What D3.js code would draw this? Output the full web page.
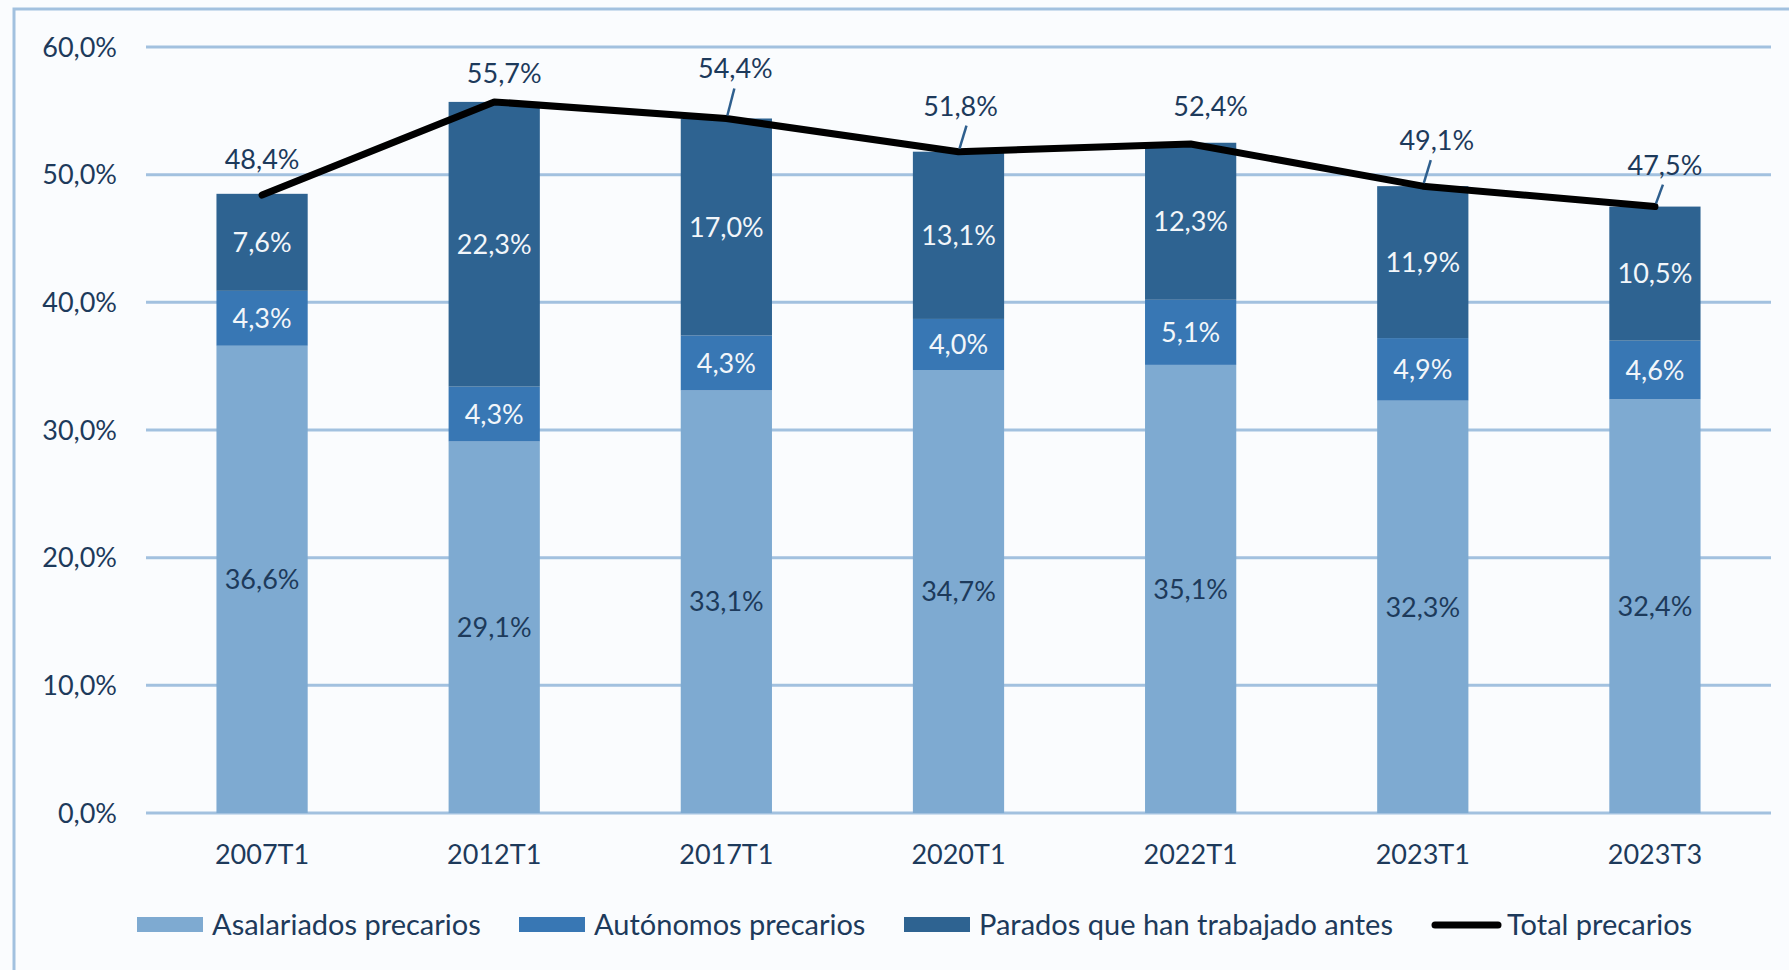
<!DOCTYPE html>
<html>
<head>
<meta charset="utf-8">
<script src="https://cdn.jsdelivr.net/npm/d3@7"></script>
<style>
    body { margin: 0; background: #ffffff; }
    svg { display: block; font-family: Lato, "Open Sans", sans-serif; }
</style>
</head>
<body>
<div class="main_content"></div>
<script>
// Data
const categories = ['2007T1', '2012T1', '2017T1', '2020T1', '2022T1', '2023T1', '2023T3'];
const asalariados = [36.6, 29.1, 33.1, 34.7, 35.1, 32.3, 32.4];
const autonomos = [4.3, 4.3, 4.3, 4.0, 5.1, 4.9, 4.6];
const parados = [7.6, 22.3, 17.0, 13.1, 12.3, 11.9, 10.5];
const totales = [48.4, 55.7, 54.4, 51.8, 52.4, 49.1, 47.5];
const yTicks = [0, 10, 20, 30, 40, 50, 60];
const seriesNames = ['Asalariados precarios', 'Autónomos precarios', 'Parados que han trabajado antes', 'Total precarios'];

// label placement for the total line (pixel offsets, leader line or not)
const totalLabelPos = [
    {dx: 0, dy: -26, leader: false},
    {dx: 10, dy: -19, leader: false},
    {dx: 9, dy: -40, leader: true},
    {dx: 2, dy: -36, leader: true},
    {dx: 20, dy: -28, leader: false},
    {dx: 14, dy: -36, leader: true},
    {dx: 10, dy: -32, leader: true}
];

const colors = ['#7eaad1', '#3877b4', '#2e6391'];
const textDark = '#1d3a5b';
const gridColor = '#a2c1df';

const width = 1789, height = 970;
const margin = {top: 47, right: 18, bottom: 157, left: 146};

let svg = d3.select('.main_content').append('svg')
    .attr('width', width)
    .attr('height', height);

svg.append('rect')
    .attr('width', width).attr('height', height)
    .style('fill', '#fafcfe');

// outer frame (only left and top visible)
svg.append('rect')
    .attr('x', 14).attr('y', 9)
    .attr('width', width + 20).attr('height', height + 20)
    .style('fill', 'none')
    .style('stroke', gridColor)
    .style('stroke-width', 3);

let xScale = d3.scaleBand()
    .domain(categories)
    .range([margin.left, width - margin.right])
    .paddingInner(0.607)
    .paddingOuter(0.3035);

let yScale = d3.scaleLinear()
    .domain([0, 60])
    .range([height - margin.bottom, margin.top]);

// Gridlines
svg.append('g').selectAll('line')
    .data(yTicks)
    .enter().append('line')
    .attr('x1', margin.left)
    .attr('x2', width - margin.right)
    .attr('y1', d => yScale(d))
    .attr('y2', d => yScale(d))
    .style('stroke', gridColor)
    .style('stroke-width', 3);

// Y axis labels
svg.append('g').selectAll('text')
    .data(yTicks)
    .enter().append('text')
    .attr('x', 117)
    .attr('y', d => yScale(d))
    .attr('dy', '0.36em')
    .attr('text-anchor', 'end')
    .style('font-size', '27px')
    .style('fill', textDark)
    .text(d => d.toFixed(1).replace('.', ',') + '%');

// Stacked bars
let table = categories.map((c, i) => ({cat: c, a: asalariados[i], b: autonomos[i], c: parados[i]}));
let stack = d3.stack().keys(['a', 'b', 'c'])(table);

let layers = svg.append('g').selectAll('g')
    .data(stack)
    .enter().append('g')
    .style('fill', (d, i) => colors[i]);

layers.selectAll('rect')
    .data(d => d)
    .enter().append('rect')
    .attr('x', d => xScale(d.data.cat))
    .attr('width', xScale.bandwidth())
    .attr('y', d => yScale(d[1]))
    .attr('height', d => yScale(d[0]) - yScale(d[1]));

layers.each(function(layer, li) {
    d3.select(this).selectAll('text')
        .data(layer)
        .enter().append('text')
        .attr('x', d => xScale(d.data.cat) + xScale.bandwidth() / 2)
        .attr('y', d => yScale((d[0] + d[1]) / 2))
        .attr('dy', '0.36em')
        .attr('text-anchor', 'middle')
        .style('font-size', '27px')
        .style('fill', li === 0 ? textDark : '#f2f6fa')
        .text(d => (d[1] - d[0]).toFixed(1).replace('.', ',') + '%');
});

// Total line
let line = d3.line()
    .x((d, i) => xScale(categories[i]) + xScale.bandwidth() / 2)
    .y(d => yScale(d));

svg.append('path')
    .datum(totales)
    .attr('d', line)
    .style('fill', 'none')
    .style('stroke', '#000')
    .style('stroke-width', 7)
    .style('stroke-linejoin', 'round')
    .style('stroke-linecap', 'round');

// Total labels
let tg = svg.append('g');
totales.forEach((v, i) => {
    let px = xScale(categories[i]) + xScale.bandwidth() / 2;
    let py = yScale(v);
    let p = totalLabelPos[i];
    if (p.leader) {
        tg.append('line')
            .attr('x1', px + 1).attr('y1', py - 3)
            .attr('x2', px + 8).attr('y2', py + p.dy + 10)
            .style('stroke', '#2e5f8e')
            .style('stroke-width', 2.5);
    }
    tg.append('text')
        .attr('x', px + p.dx)
        .attr('y', py + p.dy)
        .attr('text-anchor', 'middle')
        .style('font-size', '27px')
        .style('fill', textDark)
        .text(v.toFixed(1).replace('.', ',') + '%');
});

// X axis labels
svg.append('g').selectAll('text')
    .data(categories)
    .enter().append('text')
    .attr('x', d => xScale(d) + xScale.bandwidth() / 2)
    .attr('y', 854)
    .attr('dy', '0.36em')
    .attr('text-anchor', 'middle')
    .style('font-size', '27px')
    .style('fill', textDark)
    .text(d => d);

// Legend
const legendX = [137, 519, 904, 1432];
let legend = svg.append('g');
seriesNames.forEach((name, i) => {
    if (i < 3) {
        legend.append('rect')
            .attr('x', legendX[i]).attr('y', 917)
            .attr('width', 66).attr('height', 15)
            .style('fill', colors[i]);
    } else {
        legend.append('line')
            .attr('x1', legendX[i] + 3).attr('x2', legendX[i] + 66)
            .attr('y1', 925).attr('y2', 925)
            .style('stroke', '#000')
            .style('stroke-width', 7)
            .style('stroke-linecap', 'round');
    }
    legend.append('text')
        .attr('x', legendX[i] + 75)
        .attr('y', 925)
        .attr('dy', '0.36em')
        .style('font-size', '29px')
        .style('fill', textDark)
        .text(name);
});
</script>
</body>
</html>
